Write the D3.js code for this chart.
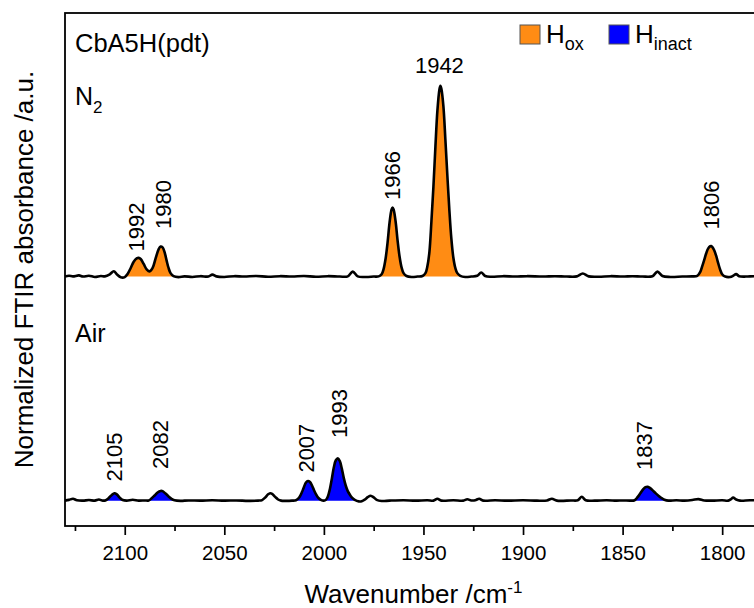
<!DOCTYPE html>
<html>
<head>
<meta charset="utf-8">
<script src="https://cdn.jsdelivr.net/npm/d3@7"></script>
<style>
  html, body { margin: 0; padding: 0; background: #ffffff; }
  svg { display: block; font-family: "Liberation Sans", Arial, sans-serif; }
</style>
</head>
<body>
<svg id="chart" width="754" height="608"></svg>
<script>
// ---- Spectra: [wavenumber / cm^-1, normalized absorbance] ----
const n2Spectrum = [
  [2130, 0.000], [2128, 0.004], [2126, 0.001], [2123, 0.006], [2121, 0.000],
  [2118, 0.004], [2115, -0.002], [2112, 0.003], [2110, 0.001], [2107.5, 0.012],
  [2105.5, 0.028], [2104, 0.012], [2102, -0.004], [2100, -0.003], [2098.5, 0.015],
  [2097, 0.045], [2095.5, 0.078], [2094, 0.095], [2093, 0.098], [2092, 0.092],
  [2090.5, 0.066], [2089, 0.038], [2087.5, 0.027], [2086, 0.045], [2084.5, 0.095],
  [2083, 0.143], [2082, 0.157], [2081, 0.153], [2080, 0.128], [2079, 0.085],
  [2078, 0.045], [2077, 0.018], [2075.5, 0.002], [2073, -0.003], [2070, 0.001],
  [2066, -0.002], [2062, 0.002], [2058, 0.000], [2056, 0.010], [2054, 0.001],
  [2050, -0.002], [2045, 0.002], [2040, 0.000], [2034, 0.003], [2028, -0.001],
  [2022, 0.002], [2016, 0.000], [2010, 0.003], [2004, -0.001], [1998, 0.002],
  [1992, 0.000], [1988, 0.001], [1985.5, 0.026], [1983, 0.001], [1979, -0.002],
  [1975, 0.000], [1972.5, 0.001], [1971, 0.012], [1970, 0.040], [1969, 0.095],
  [1968, 0.180], [1967, 0.285], [1966, 0.352], [1965.5, 0.362], [1965, 0.352],
  [1964, 0.290], [1963, 0.190], [1962, 0.105], [1961, 0.048], [1960, 0.018],
  [1958.5, 0.003], [1956, -0.002], [1953, 0.000], [1950.5, 0.003], [1949, 0.018],
  [1948, 0.055], [1947, 0.130], [1946, 0.290], [1945, 0.470], [1944, 0.680],
  [1943, 0.870], [1942, 0.980], [1941.5, 1.000], [1941, 0.985], [1940, 0.895],
  [1939, 0.720], [1938, 0.530], [1937, 0.350], [1936, 0.200], [1935, 0.100],
  [1934, 0.045], [1933, 0.018], [1931.5, 0.004], [1929, -0.002], [1926, 0.000],
  [1923, 0.004], [1921, 0.021], [1919, 0.003], [1916, -0.001], [1910, 0.002],
  [1904, 0.000], [1898, 0.002], [1890, 0.000], [1884, 0.002], [1878, 0.000],
  [1873, 0.001], [1870, 0.016], [1867, 0.001], [1862, -0.001], [1856, 0.002],
  [1850, 0.000], [1845, 0.002], [1840, 0.000], [1835, 0.002], [1832.5, 0.026],
  [1830, 0.003], [1826, -0.002], [1820, 0.000], [1815, 0.001], [1812.5, 0.004],
  [1811, 0.025], [1810, 0.055], [1809, 0.088], [1808, 0.122], [1807, 0.148],
  [1806, 0.159], [1805.5, 0.160], [1805, 0.156], [1804, 0.138], [1803, 0.108],
  [1802, 0.070], [1801, 0.036], [1800, 0.012], [1798.5, 0.000], [1796, -0.002],
  [1794.5, 0.004], [1793, 0.013], [1791.5, 0.002], [1788, 0.000], [1784, 0.002],
  [1780, 0.000]
];

const airSpectrum = [
  [2130, 0.000], [2128, 0.004], [2126, 0.010], [2124, 0.002], [2121, 0.000],
  [2118, 0.003], [2115, 0.000], [2113, 0.006], [2111, 0.000], [2109.5, 0.002],
  [2108, 0.014], [2106.5, 0.030], [2105.2, 0.039], [2104, 0.033], [2102.5, 0.015],
  [2101, 0.003], [2099, 0.000], [2096, 0.005], [2093, 0.000], [2090, 0.001],
  [2088, 0.001], [2086.5, 0.012], [2085, 0.027], [2083.5, 0.043], [2082, 0.051],
  [2081, 0.050], [2079.5, 0.037], [2078, 0.022], [2076.5, 0.009], [2075, 0.002],
  [2072, -0.001], [2068, 0.001], [2062, 0.000], [2056, 0.002], [2050, 0.000],
  [2044, 0.001], [2038, -0.001], [2033, 0.000], [2031, 0.003], [2029.5, 0.016],
  [2028, 0.033], [2027, 0.039], [2026, 0.036], [2024.5, 0.020], [2023, 0.006],
  [2021.5, 0.000], [2019, -0.001], [2016, 0.000], [2014, 0.002], [2012.5, 0.015],
  [2011, 0.045], [2010, 0.072], [2009, 0.095], [2008, 0.103], [2007, 0.098],
  [2006, 0.080], [2005, 0.056], [2004, 0.034], [2003, 0.017], [2001.5, 0.004],
  [2000, 0.000], [1999, 0.004], [1998, 0.022], [1997, 0.060], [1996, 0.115],
  [1995, 0.175], [1994, 0.212], [1993, 0.222], [1992, 0.208], [1991, 0.168],
  [1990, 0.118], [1989, 0.078], [1988, 0.050], [1987, 0.032], [1986, 0.017],
  [1984.5, 0.004], [1982.5, -0.004], [1981, -0.003], [1979.5, 0.005], [1978, 0.018],
  [1976.5, 0.026], [1975, 0.017], [1973.5, 0.004], [1971, -0.002], [1967, 0.000],
  [1960, 0.002], [1954, 0.000], [1948, 0.002], [1945, 0.000], [1943, 0.010],
  [1941, 0.000], [1935, 0.002], [1930, 0.000], [1928, 0.007], [1926, 0.001],
  [1924, 0.002], [1922, 0.010], [1920, 0.000], [1914, 0.002], [1908, 0.000],
  [1900, 0.002], [1893, 0.000], [1888, 0.001], [1885.5, 0.010], [1883, 0.000],
  [1876, 0.001], [1872.5, 0.002], [1870.5, 0.020], [1868.5, 0.002], [1864, 0.000],
  [1858, 0.002], [1853, 0.000], [1850, 0.001], [1846, 0.000], [1844, 0.002],
  [1842.5, 0.018], [1841, 0.040], [1839.5, 0.062], [1838.5, 0.071], [1837.5, 0.073],
  [1836.5, 0.068], [1835, 0.055], [1833.5, 0.040], [1832, 0.026], [1830.5, 0.014],
  [1829, 0.005], [1827, 0.000], [1823, 0.002], [1819, 0.000], [1815, 0.003],
  [1812, 0.008], [1809, 0.001], [1805, 0.000], [1800, 0.002], [1797, 0.000],
  [1795.5, 0.008], [1794.5, 0.016], [1793, 0.006], [1791, 0.000], [1786, 0.002],
  [1780, 0.000]
];

// Vertical offset of each trace in the stack
const traceOffsets = { n2: 1.175, air: 0 };

// Shaded bands [from, to] in cm^-1
const n2Bands  = [[2100, 2075.5], [1972.5, 1958.5], [1950.5, 1931.5], [1812.5, 1798.5]];
const airBands = [[2109.5, 2101], [2088, 2075], [2014, 2001.5], [1999, 1984.5], [1844, 1827]];

// Peak annotations: text, wavenumber, height above the trace baseline
const n2PeakText   = ["1992", "1980", "1966", "1942", "1806"];
const n2PeakWn     = [2094.5, 2080.9, 1965.8, 1942, 1805.7];
const n2PeakLevel  = [0.131, 0.250, 0.402, 1.066, 0.247];
const airPeakText  = ["2105", "2082", "2007", "1993", "1837"];
const airPeakWn    = [2105.5, 2082.2, 2009.0, 1992.6, 1839.0];
const airPeakLevel = [0.100, 0.166, 0.147, 0.329, 0.161];

// Axis ticks
const majorTicks = [2100, 2050, 2000, 1950, 1900, 1850, 1800];
const minorTicks = [2125, 2075, 2025, 1975, 1925, 1875, 1825];

// Legend entries
const legendMain = ["H", "H"];
const legendSub  = ["ox", "inact"];

// ---- Layout & style ----
const colors = { ox: "#ff8c14", inact: "#0000ff" };
const plotLeft = 65, plotTop = 13, plotRight = 762, plotBottom = 526;

const svg = d3.select("#chart");

const x = d3.scaleLinear().domain([2130, 1780]).range([plotLeft, plotRight]);
const y = d3.scaleLinear().domain([-0.133, 2.557]).range([plotBottom, plotTop]);

// Shaded peak areas
function drawBands(spectrum, bands, offset, color) {
  const area = d3.area()
    .x(d => x(d[0]))
    .y0(y(offset))
    .y1(d => y(d[1] + offset))
    .curve(d3.curveCatmullRom.alpha(0.5));
  bands.forEach(([a, b]) => {
    const pts = spectrum.filter(d => d[0] <= a && d[0] >= b);
    svg.append("path").attr("d", area(pts)).attr("fill", color).attr("stroke", "none");
  });
}
drawBands(n2Spectrum, n2Bands, traceOffsets.n2, colors.ox);
drawBands(airSpectrum, airBands, traceOffsets.air, colors.inact);

// Spectrum traces
function drawTrace(spectrum, offset) {
  const line = d3.line()
    .x(d => x(d[0]))
    .y(d => y(d[1] + offset))
    .curve(d3.curveCatmullRom.alpha(0.5));
  svg.append("path").attr("d", line(spectrum))
    .attr("fill", "none").attr("stroke", "#000").attr("stroke-width", 2.6)
    .attr("stroke-linejoin", "round");
}
drawTrace(n2Spectrum, traceOffsets.n2);
drawTrace(airSpectrum, traceOffsets.air);

// Frame
svg.append("rect")
  .attr("x", plotLeft).attr("y", plotTop)
  .attr("width", plotRight - plotLeft).attr("height", plotBottom - plotTop)
  .attr("fill", "none").attr("stroke", "#000").attr("stroke-width", 1.8);

// Bottom axis: labelled major ticks and unlabelled minor ticks
const axMajor = svg.append("g").attr("transform", `translate(0,${plotBottom})`)
  .call(d3.axisBottom(x).tickValues(majorTicks).tickSize(9).tickSizeOuter(0).tickFormat(d3.format("d")));
axMajor.select(".domain").remove();
axMajor.selectAll("line").attr("stroke", "#000").attr("stroke-width", 1.7);
axMajor.selectAll("text")
  .attr("y", 34).attr("dy", 0)
  .attr("font-size", 20.5).attr("font-family", "Liberation Sans, Arial, sans-serif")
  .attr("fill", "#000");

const axMinor = svg.append("g").attr("transform", `translate(0,${plotBottom})`)
  .call(d3.axisBottom(x).tickValues(minorTicks).tickSize(5).tickSizeOuter(0).tickFormat(""));
axMinor.select(".domain").remove();
axMinor.selectAll("line").attr("stroke", "#000").attr("stroke-width", 1.7);

// Axis titles
const xTitle = svg.append("text")
  .attr("x", (plotLeft + plotRight) / 2).attr("y", 603)
  .attr("text-anchor", "middle").attr("font-size", 26).attr("fill", "#000");
xTitle.append("tspan").text("Wavenumber /cm");
xTitle.append("tspan").attr("dy", -10).attr("font-size", 17).text("-1");

svg.append("text")
  .attr("transform", `translate(33,${(plotTop + plotBottom) / 2}) rotate(-90)`)
  .attr("text-anchor", "middle").attr("font-size", 26).attr("fill", "#000")
  .text("Normalized FTIR absorbance /a.u.");

// Peak labels
function drawPeakLabels(texts, wns, levels, offset) {
  texts.forEach((t, i) => {
    const px = x(wns[i]), py = y(levels[i] + offset);
    if (levels[i] > 0.9) {
      svg.append("text").attr("x", px).attr("y", py)
        .attr("text-anchor", "middle").attr("font-size", 22).attr("fill", "#000").text(t);
    } else {
      svg.append("text")
        .attr("transform", `translate(${px},${py}) rotate(-90)`)
        .attr("dy", "0.36em").attr("text-anchor", "start")
        .attr("font-size", 22).attr("fill", "#000").text(t);
    }
  });
}
drawPeakLabels(n2PeakText, n2PeakWn, n2PeakLevel, traceOffsets.n2);
drawPeakLabels(airPeakText, airPeakWn, airPeakLevel, traceOffsets.air);

// Panel labels
svg.append("text").attr("x", 75).attr("y", 51.5).attr("font-size", 25.5).attr("fill", "#000")
  .text("CbA5H(pdt)");
const n2Label = svg.append("text").attr("x", 75).attr("y", 105).attr("font-size", 25).attr("fill", "#000");
n2Label.append("tspan").text("N");
n2Label.append("tspan").attr("dy", 8).attr("font-size", 17).text("2");
svg.append("text").attr("x", 75).attr("y", 342).attr("font-size", 25).attr("fill", "#000")
  .text("Air");

// Legend
const legendX = [520, 609];
const legendKeys = ["ox", "inact"];
legendMain.forEach((m, i) => {
  svg.append("rect")
    .attr("x", legendX[i]).attr("y", 25).attr("width", 20).attr("height", 19)
    .attr("fill", colors[legendKeys[i]]).attr("stroke", "#555").attr("stroke-width", 1);
  const t = svg.append("text").attr("x", legendX[i] + 26).attr("y", 42.5)
    .attr("font-size", 26).attr("fill", "#000");
  t.append("tspan").text(m);
  t.append("tspan").attr("dy", 7).attr("font-size", 18).text(legendSub[i]);
});
</script>
</body>
</html>
